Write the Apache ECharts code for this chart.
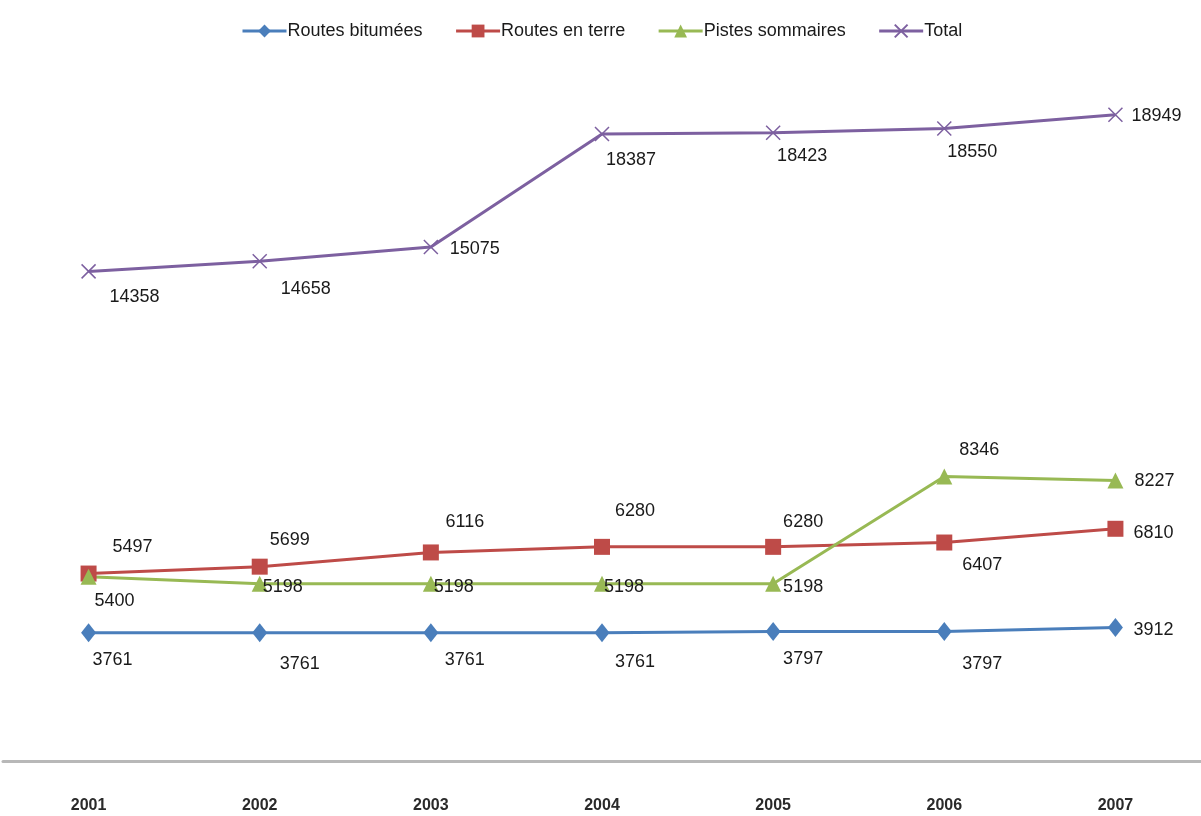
<!DOCTYPE html>
<html>
<head>
<meta charset="utf-8">
<script src="https://cdn.jsdelivr.net/npm/echarts@6/dist/echarts.min.js"></script>
<style>html,body{margin:0;padding:0;background:#fff;}#c{width:1201px;height:816px;}</style>
</head>
<body>
<div id="c"></div>
<script>
const years = ['2001','2002','2003','2004','2005','2006','2007'];
const routesBitumees = [3761, 3761, 3761, 3761, 3797, 3797, 3912];
const routesEnTerre = [5497, 5699, 6116, 6280, 6280, 6407, 6810];
const pistesSommaires = [5400, 5198, 5198, 5198, 5198, 8346, 8227];
const total = [14358, 14658, 15075, 18387, 18423, 18550, 18949];

// label offsets (style only)
const offBit = [[24,27],[40,31],[34,27],[33,29],[30,28],[38,33],[38,2]];
const offTerre = [[44,-27],[30,-27],[34,-30],[33,-36],[30,-25],[38,23],[38,4]];
const offPistes = [[26,24],[23,3],[23,3],[22,3],[30,3],[35,-26],[39,1]];
const offTotal = [[46,26],[46,28],[44,2],[29,26],[29,23],[28,24],[41,1]];

const FONT = "'Liberation Sans',Arial,sans-serif";

function mk(vals, offs) {
  return vals.map((v, i) => ({ value: v, label: { offset: offs[i] } }));
}
function series(name, vals, offs, color, symbol, size, extra) {
  return Object.assign({
    name: name, type: 'line', data: mk(vals, offs),
    symbol: symbol, symbolSize: size,
    lineStyle: { color: color, width: 3 },
    itemStyle: { color: color },
    label: { show: true, position: 'inside', align: 'center', verticalAlign: 'middle',
      color: '#1a1a1a', fontSize: 18, fontFamily: FONT },
    animation: false
  }, extra || {});
}
const chart = echarts.init(document.getElementById('c'));
chart.setOption({
  animation: false,
  legend: {
    top: 17, left: 236, itemWidth: 44, itemHeight: 16, itemGap: 32,
    lineStyle: { width: 3 },
    textStyle: { fontSize: 18, fontFamily: FONT, color: '#1a1a1a', padding: [0,0,0,-4] },
    data: ['Routes bitumées','Routes en terre','Pistes sommaires','Total']
  },
  grid: { left: 3, right: -4, top: 79, bottom: 55 },
  xAxis: {
    type: 'category', data: years, boundaryGap: true,
    axisLine: { lineStyle: { color: '#b8b8b8', width: 3 } },
    axisTick: { show: false },
    axisLabel: { margin: 37, fontSize: 16, fontWeight: 'bold', color: '#2a2a2a', fontFamily: FONT }
  },
  yAxis: { type: 'value', min: 0, max: 20000, show: false, splitLine: { show: false } },
  series: [
    series('Routes bitumées', routesBitumees, offBit, '#4a7ebb', 'diamond', [15, 19]),
    series('Routes en terre', routesEnTerre, offTerre, '#be4b48', 'rect', 16),
    series('Pistes sommaires', pistesSommaires, offPistes, '#98b954', 'triangle', 16),
    series('Total', total, offTotal, '#7d60a0', 'path://M0,0L10,10M10,0L0,10', 14,
      { itemStyle: { color: 'none', borderColor: '#7d60a0', borderWidth: 1.5 } })
  ]
});
</script>
</body>
</html>
